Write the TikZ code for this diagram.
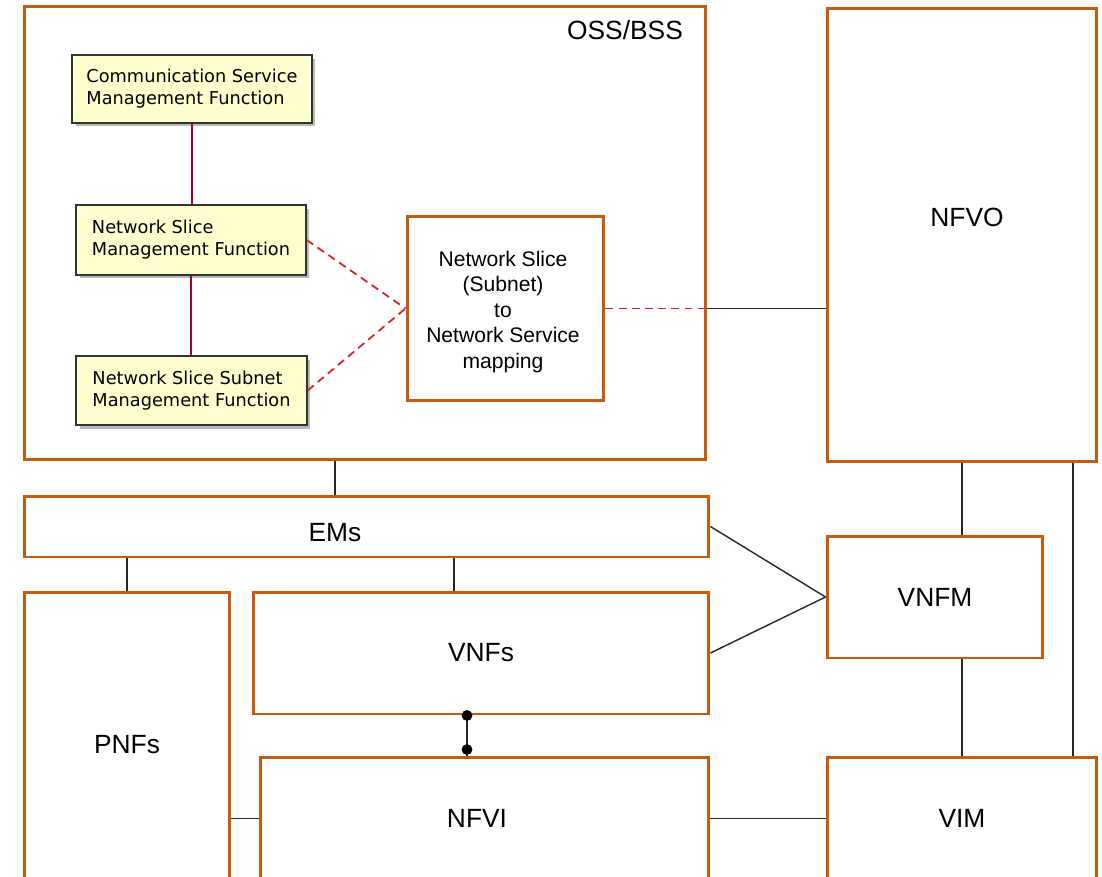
\documentclass[tikz,border=0pt]{standalone}
\usepackage{fontspec}
\setmainfont{Liberation Sans}
\newfontfamily\umlfont{DejaVu Sans}
\usepackage{tikz}
\usetikzlibrary{shadows}
\definecolor{ossorange}{RGB}{197,90,17}
\definecolor{umlyellow}{RGB}{254,254,206}
\definecolor{umlred}{RGB}{168,0,54}
\definecolor{dashred}{RGB}{222,30,30}
\tikzset{
  blk/.style={draw=ossorange,line width=1.7pt,fill=white,inner sep=0pt,font=\fontsize{15}{18}\selectfont},
  lbl/.style={font=\fontsize{15}{18}\selectfont},
  uml/.style={draw=black!80,line width=0.8pt,fill=umlyellow,align=left,inner sep=0pt,
    font=\umlfont\fontsize{10.1}{12.5}\selectfont,
    drop shadow={shadow xshift=0.07cm,shadow yshift=-0.07cm,opacity=0.55}},
  conn/.style={draw=black!85,line width=0.8pt},
  mline/.style={draw=umlred,line width=0.8pt},
  rdash/.style={draw=dashred,line width=1pt,dash pattern=on 4.5pt off 3pt}
}

\begin{document}
\begin{tikzpicture}[x=0.02cm,y=-0.02cm]
\useasboundingbox (0,0) rectangle (1102,876);
\clip (0,0) rectangle (1102,876);
\node (oss) at (365,233) [blk,minimum width=13.64cm,minimum height=9.08cm] {};
\node (osstxt) at (625,30) [lbl] {OSS/BSS};
\node (nfvo) at (962,235) [blk,minimum width=5.4cm,minimum height=9.08cm] {};
\node (nfvotxt) at (967,217) [lbl] {NFVO};
\node (csmf) at (192,89) [uml,minimum width=4.8cm,minimum height=1.36cm] {Communication Service\\Management Function};
\node (nsmf) at (191,240) [uml,minimum width=4.6cm,minimum height=1.4cm] {Network Slice\\Management Function};
\node (nssmf) at (191.5,390.5) [uml,minimum width=4.62cm,minimum height=1.38cm] {Network Slice Subnet\\Management Function};
\node (map) at (505.5,308.5) [blk,minimum width=3.94cm,minimum height=3.7cm,align=center,font=\fontsize{12}{14.5}\selectfont] {};
\node (maptxt) at (503,312) [align=center,font=\fontsize{12}{14.5}\selectfont] {Network Slice\\(Subnet)\\to\\Network Service\\mapping};
\node (ems) at (366.5,526.5) [blk,minimum width=13.7cm,minimum height=1.22cm] {};
\node (emstxt) at (335,533) [lbl] {EMs};
\node (pnfs) at (127,745) [blk,minimum width=4.12cm,minimum height=6.12cm] {PNFs};
\node (vnfs) at (481,653) [blk,minimum width=9.12cm,minimum height=2.44cm] {VNFs};
\node (nfvi) at (484.5,818.5) [blk,minimum width=8.98cm,minimum height=2.46cm] {};
\node (nfvitxt) at (477,818) [lbl] {NFVI};
\node (vnfm) at (935,597) [blk,minimum width=4.32cm,minimum height=2.44cm] {VNFM};
\node (vim) at (962,818.5) [blk,minimum width=5.4cm,minimum height=2.46cm] {VIM};
\coordinate (emv) at (454,0);
\coordinate (vn) at (467,0);
\coordinate (nv) at (1073,0);
\draw [mline] (csmf.south) -- (csmf.south |- nsmf.north);
\draw [mline] (nsmf.south) -- (nsmf.south |- nssmf.north);
\draw [rdash] (nsmf.east) -- (map.west);
\draw [rdash] (nssmf.east) -- (map.west);
\draw [rdash] (map.east) -- (oss.east |- map.east);
\draw [conn] (oss.east |- map.east) -- (nfvo.west |- map.east);
\draw [conn] (oss.south -| emstxt) -- (ems.north -| emstxt);
\draw [conn] (ems.south -| pnfs) -- (pnfs.north);
\draw [conn] (ems.south -| emv) -- (vnfs.north -| emv);
\draw [conn] (ems.east) -- (vnfm.west);
\draw [conn] (vnfs.east) -- (vnfm.west);
\draw [conn] (nfvo.south) -- (nfvo.south |- vnfm.north);
\draw [conn] (vnfm.south -| vim) -- (vim.north);
\draw [conn] (nfvo.south -| nv) -- (vim.north -| nv);
\draw [conn] (vnfs.south -| vn) -- (nfvi.north -| vn);
\draw [fill] (vnfs.south -| vn) circle [radius=5];
\draw [fill] (nfvi.north -| vn) ++(0,-6) circle [radius=5];
\draw [conn] (pnfs.east |- nfvi) -- (nfvi.west);
\draw [conn] (nfvi.east) -- (vim.west);
\end{tikzpicture}
\end{document}
